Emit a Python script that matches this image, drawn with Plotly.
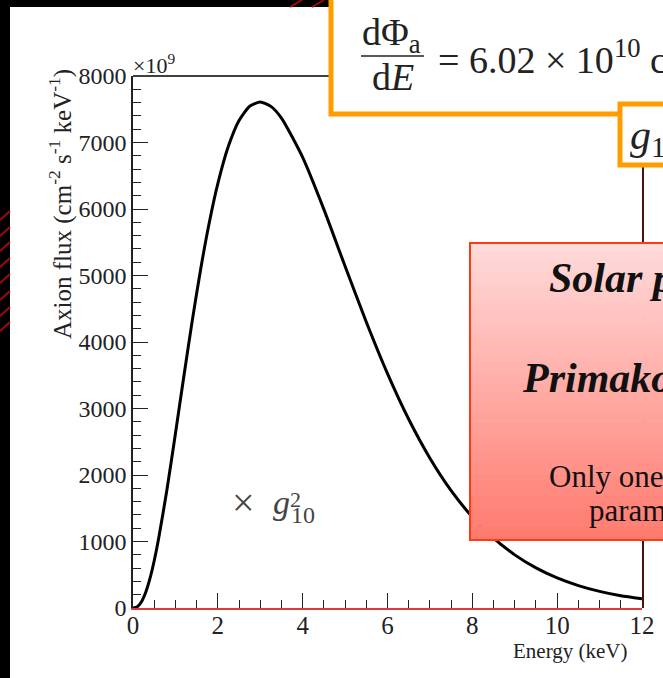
import plotly.graph_objects as go

# ---------------- data ----------------
energy_kev = [0, 0.1, 0.2, 0.3, 0.4, 0.5, 0.6, 0.8, 1.0, 1.2, 1.4, 1.6, 1.8, 2.0,
              2.25, 2.5, 2.75, 3.0, 3.25, 3.5, 4.0, 4.5, 5.0, 5.5, 6.0, 6.5, 7.0,
              7.5, 8.0, 8.5, 9.0, 9.5, 10.0, 10.5, 11.0, 11.5, 12.0]
flux_1e9 = [0, 18, 94, 236, 444, 711, 1029, 1779, 2621, 3490, 4333, 5113, 5800, 6381,
            6946, 7331, 7545, 7609, 7543, 7367, 6776, 5994, 5139, 4300, 3524, 2838, 2253,
            1765, 1368, 1050, 799, 603, 452, 337, 250, 184, 140]
x_tick_vals = [0, 2, 4, 6, 8, 10, 12]
x_tick_text = ["0", "2", "4", "6", "8", "10", "12"]
y_tick_vals = [0, 1000, 2000, 3000, 4000, 5000, 6000, 7000, 8000]
y_tick_text = ["0", "1000", "2000", "3000", "4000", "5000", "6000", "7000", "8000"]

# ---------------- geometry helpers ----------------
W, H = 663, 678
L, R, T, B = 133, 21, 76, 70
PW, PH = W - L - R, H - T - B


def px(x):
    return (x - L) / PW


def py(y):
    return (H - B - y) / PH


SERIF = "Liberation Serif"

fig = go.Figure()
fig.add_trace(go.Scatter(x=energy_kev, y=flux_1e9, mode="lines",
                         line=dict(color="black", width=3, shape="spline", smoothing=0.6),
                         hoverinfo="skip", showlegend=False))

shapes = []
# slide background strips
shapes.append(dict(type="rect", xref="paper", yref="paper", x0=px(-5), x1=px(10),
                   y0=py(H + 5), y1=py(-5), fillcolor="black", line_width=0, layer="above"))
shapes.append(dict(type="rect", xref="paper", yref="paper", x0=px(-5), x1=px(W + 5),
                   y0=py(7), y1=py(-5), fillcolor="black", line_width=0, layer="above"))
# red hatch marks on slide background
for yy in [211, 227, 242, 258, 274, 291, 307, 322]:
    shapes.append(dict(type="line", xref="paper", yref="paper", x0=px(0), y0=py(yy + 9),
                       x1=px(10), y1=py(yy), line=dict(color="#a00a0a", width=2), layer="above"))
for xx in [290, 312]:
    shapes.append(dict(type="line", xref="paper", yref="paper", x0=px(xx), y0=py(7),
                       x1=px(xx + 12), y1=py(0), line=dict(color="#a00a0a", width=2), layer="above"))
# frame top and right
shapes.append(dict(type="line", xref="paper", yref="paper", x0=px(133), x1=px(643),
                   y0=py(76), y1=py(76), line=dict(color="black", width=1.5), layer="above"))
shapes.append(dict(type="line", xref="paper", yref="paper", x0=px(643), x1=px(643),
                   y0=py(76), y1=py(608), line=dict(color="#4a1010", width=2), layer="above"))
# orange equation boxes
ORANGE = "#ff9d00"
shapes.append(dict(type="rect", xref="paper", yref="paper", x0=px(331), x1=px(720),
                   y0=py(114), y1=py(-30), fillcolor="white",
                   line=dict(color=ORANGE, width=5), layer="above"))
shapes.append(dict(type="rect", xref="paper", yref="paper", x0=px(620), x1=px(720),
                   y0=py(165), y1=py(104), fillcolor="white",
                   line=dict(color=ORANGE, width=5), layer="above"))
# fraction bar
shapes.append(dict(type="line", xref="paper", yref="paper", x0=px(361), x1=px(424),
                   y0=py(56), y1=py(56), line=dict(color="#222", width=1.5), layer="above"))
# red gradient box
top_rgb = (255, 219, 219)
bot_rgb = (255, 122, 110)
n = 40
y_top, y_bot = 243, 540
for i in range(n):
    t = (i + 0.5) / n
    c = tuple(round(top_rgb[k] + (bot_rgb[k] - top_rgb[k]) * t) for k in range(3))
    ya = y_top + (y_bot - y_top) * i / n
    yb = y_top + (y_bot - y_top) * (i + 1) / n + 0.6
    shapes.append(dict(type="rect", xref="paper", yref="paper", x0=px(470), x1=px(720),
                       y0=py(yb), y1=py(ya), fillcolor="rgb(%d,%d,%d)" % c,
                       line_width=0, layer="above"))
shapes.append(dict(type="rect", xref="paper", yref="paper", x0=px(470), x1=px(720),
                   y0=py(y_bot), y1=py(y_top), line=dict(color="#ff3a12", width=2),
                   layer="above"))

ann = []


def txt(text, x, y, size, xanchor="center", color="#222", angle=0, width=None,
        family=SERIF, yanchor="middle"):
    d = dict(text=text, x=px(x), y=py(y), xref="paper", yref="paper", showarrow=False,
             xanchor=xanchor, yanchor=yanchor, textangle=angle,
             font=dict(family=family, size=size, color=color), borderpad=0)
    if width is not None:
        d["width"] = width
        d["align"] = "left"
    ann.append(d)


# axis titles and multiplier
txt("Axion flux (cm<sup>-2</sup> s<sup>-1</sup> keV<sup>-1</sup>)", 60, 204, 25, angle=-90)
txt("Energy (keV)", 629, 651, 21, xanchor="right")
txt("×10<sup>9</sup>", 132, 64, 22, xanchor="left")
# x g10^2 label
txt("×", 243, 502, 40, color="#444")
txt("<i>g</i>", 281, 502, 34, color="#444")
txt("10", 303, 515, 24, color="#444")
txt("2", 295, 499, 22, color="#444")
# equation
txt("dΦ<sub>a</sub>", 391, 35, 38)
txt("d<i>E</i>", 393, 77, 38)
txt("= 6.02 × 10<sup>10</sup> cm<sup>−2</sup> s<sup>−1</sup> keV<sup>−1</sup>", 437, 57, 38,
    xanchor="left", width=W - 437)
txt("<i>g</i><sub>10</sub> = <i>g</i><sub>aγ</sub>/10<sup>−10</sup> GeV<sup>−1</sup>", 629, 134,
    42, xanchor="left", width=W - 629)
# red box text
txt("<b><i>Solar production</i></b>", 548, 278, 42, xanchor="left", width=W - 548, color="#111")
txt("<b><i>Primakoff effect</i></b>", 521, 378, 42, xanchor="left", width=W - 521, color="#111")
txt("Only one free", 548, 476, 31, xanchor="left", width=W - 548, color="#111")
txt("parameter", 588, 510, 31, xanchor="left", width=W - 588, color="#111")

fig.update_layout(
    width=W, height=H, margin=dict(l=L, r=R, t=T, b=B, autoexpand=False),
    paper_bgcolor="white", plot_bgcolor="white", showlegend=False,
    shapes=shapes, annotations=ann,
    xaxis=dict(range=[0, 12], tickvals=x_tick_vals, ticktext=x_tick_text,
               ticks="inside", ticklen=15, tickwidth=1.2, tickcolor="#222",
               showline=True, linecolor="#e23a3a", linewidth=1.5,
               showgrid=False, zeroline=False, ticklabelstandoff=-6,
               minor=dict(dtick=0.5, ticks="inside", ticklen=8, tickwidth=1.2,
                          tickcolor="#222", showgrid=False),
               tickfont=dict(family=SERIF, size=25, color="#222")),
    yaxis=dict(range=[0, 8000], tickvals=y_tick_vals, ticktext=y_tick_text,
               ticks="inside", ticklen=15, tickwidth=1.2, tickcolor="#222",
               showline=True, linecolor="#222", linewidth=1.5,
               showgrid=False, zeroline=False,
               minor=dict(dtick=200, ticks="inside", ticklen=8, tickwidth=1.2,
                          tickcolor="#222", showgrid=False),
               tickfont=dict(family=SERIF, size=24, color="#222")),
)

fig.write_html("out.html", config={"displayModeBar": False},
               post_script="document.body.style.margin='0';document.body.style.overflow='hidden';")
